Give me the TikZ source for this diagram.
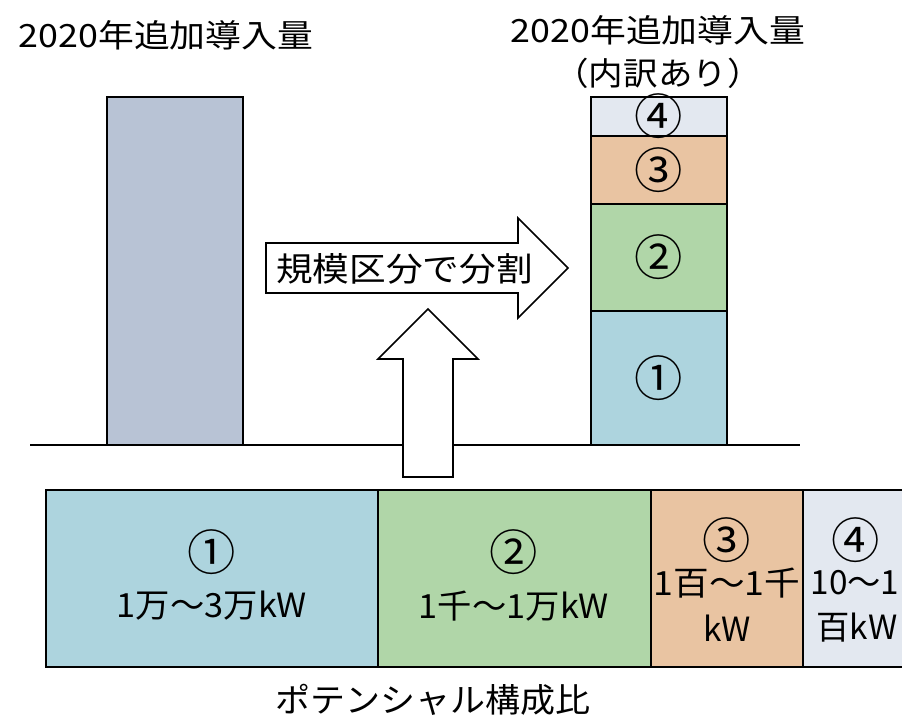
\documentclass[tikz,border=0pt]{standalone}
\usepackage{graphicx}
\usepackage{fontspec}
\setmainfont{Noto Sans CJK JP}
\usetikzlibrary{fit}
\definecolor{cgray}{HTML}{B8C3D5}
\definecolor{cone}{HTML}{ADD4DE}
\definecolor{ctwo}{HTML}{B0D6A8}
\definecolor{cthree}{HTML}{E9C4A2}
\definecolor{cfour}{HTML}{E3E8F0}
\newcommand{\hsx}[2]{\scalebox{#1}[1]{#2}}
\newcommand{\circn}[1]{\scalebox{1.45}{#1}}
\tikzset{
  bar/.style={draw=black, line width=1.2pt, inner sep=0pt},
  txt/.style={inner sep=0pt, font=\fontsize{25pt}{30pt}\selectfont},
  ttl/.style={inner sep=0pt, font=\fontsize{24pt}{30pt}\selectfont},
  bigarrow/.style={draw=black, fill=white, line width=1.2pt, line join=miter},
  baseline/.style={draw=black, line width=2.2pt}
}
\begin{document}
\begin{tikzpicture}[x=0.75pt, y=-0.75pt]
\useasboundingbox (0,0) rectangle (902,720);
\clip (0,0) rectangle (902,720);
% titles
\node[ttl] (t1) at (166,35) {\hsx{1.12}{2020年追加導入量}};
\node[ttl] (t2) at (658,30) {\hsx{1.12}{2020年追加導入量}};
\node[ttl] (t3) at (658,73) {\hsx{1.08}{（内訳あり）}};
% left bar
\node[bar, fill=cgray, fit={(107,97)(243,445)}] (lbar) {};
% right stack
\node[bar, fill=cone, fit={(591,311)(727,445)}] (s1) {};
\node[bar, fill=ctwo, fit={(591,204)(727,311)}] (s2) {};
\node[bar, fill=cthree, fit={(591,136)(727,204)}] (s3) {};
\node[bar, fill=cfour, fit={(591,97)(727,136)}] (s4) {};
\node[txt] (s1l) at (s1.center) {\circn{①}};
\node[txt] (s2l) at (s2.center) {\circn{②}};
\node[txt] (s3l) at (s3.center) {\circn{③}};
\node[txt] (s4l) at (s4.center) {\circn{④}};
% baseline
\coordinate (bl0) at (30,445);
\coordinate (bl1) at (800,445);
\draw[baseline] (bl0) -- (bl1);
% right arrow
\draw[bigarrow] (266,243) -- (518,243) -- (518,218) -- (568,268) -- (518,318) -- (518,293) -- (266,293) -- cycle;
\node[txt, anchor=west] (arr) at (276,269) {\hsx{1.1}{規模区分で分割}};
% up arrow
\draw[bigarrow] (403,477) -- (403,359) -- (378,359) -- (428,309) -- (478,359) -- (453,359) -- (453,477) -- cycle;
% bottom boxes
\node[bar, fill=cone, fit={(46,490)(378,667)}] (b1) {};
\node[bar, fill=ctwo, fit={(378,490)(651,667)}] (b2) {};
\node[bar, fill=cthree, fit={(651,490)(803,667)}] (b3) {};
\node[bar, fill=cfour, fit={(803,490)(912,667)}] (b4) {};
\node[txt] (b1a) at (212,552) {\circn{①}};
\node[txt] (b1b) at (212,606) {\hsx{1.03}{1万～3万kW}};
\node[txt] (b2a) at (514,552) {\circn{②}};
\node[txt] (b2b) at (514,606) {\hsx{1.03}{1千～1万kW}};
\node[txt] (b3a) at (727,540) {\circn{③}};
\node[txt] (b3b) at (727,583) {\hsx{1.07}{1百～1千}};
\node[txt] (b3c) at (727,628) {kW};
\node[txt] (b4a) at (856,540) {\circn{④}};
\node[txt] (b4b) at (855,583) {10～1};
\node[txt] (b4c) at (857,628) {百kW};
\node[txt] (cap) at (433,700) {\hsx{1.05}{ポテンシャル構成比}};
\end{tikzpicture}
\end{document}
